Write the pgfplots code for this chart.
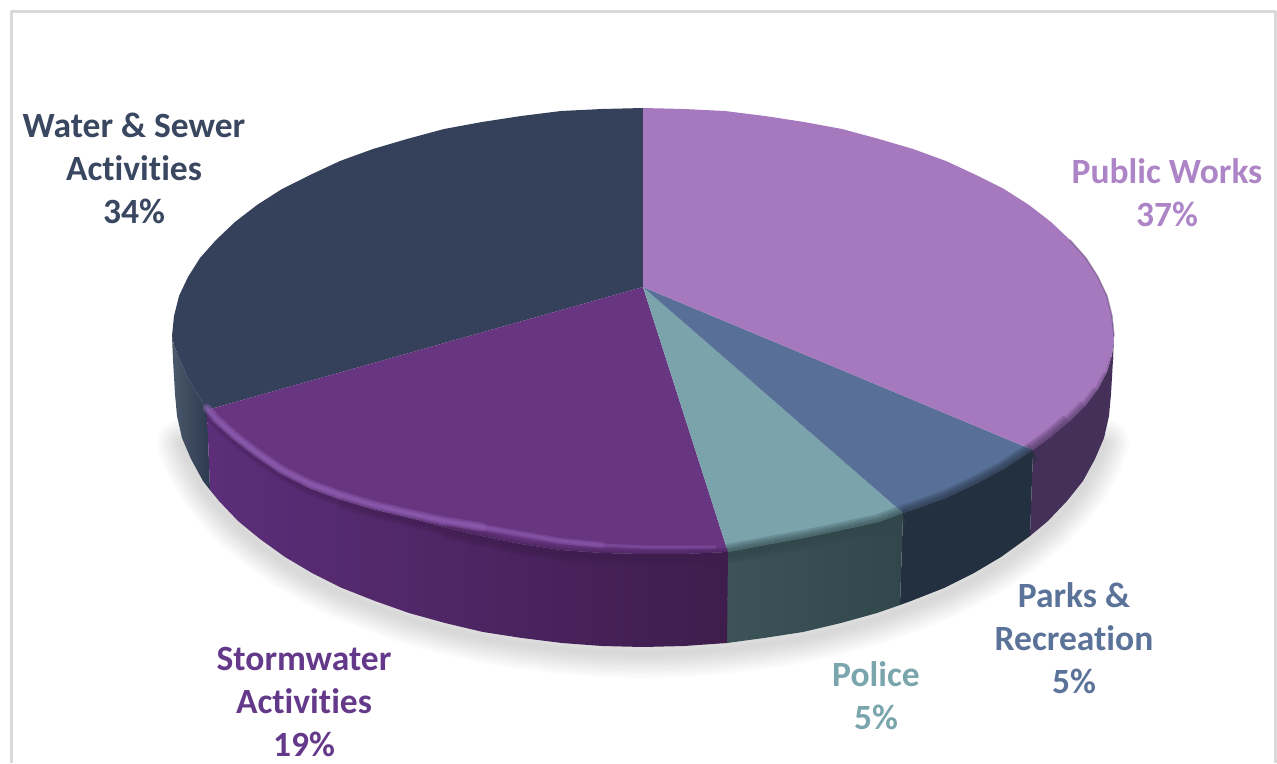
\documentclass[border=0pt]{standalone}
\usepackage{fontspec}
\setmainfont[Ligatures=NoCommon]{Carlito}
\usepackage{pgfplots}
\usepackage{pgfplotstable}
\pgfplotsset{compat=1.18}

\definecolor{cpub}{HTML}{A678BD}
\definecolor{cpubside}{HTML}{45305A}
\definecolor{cpark}{HTML}{587097}
\definecolor{cparkside}{HTML}{23303F}
\definecolor{cpol}{HTML}{7AA3AB}
\definecolor{cpolside}{HTML}{31474B}
\definecolor{cpolleft}{HTML}{3C5357}
\definecolor{cstorm}{HTML}{683681}
\definecolor{cstormside}{HTML}{3E1D4C}
\definecolor{cstormleft}{HTML}{5C2E7A}
\definecolor{chigh}{HTML}{9C6CC4}
\definecolor{cwater}{HTML}{35415A}
\definecolor{cwaterside}{HTML}{2C3A50}
\definecolor{tpub}{HTML}{AD85C7}
\definecolor{tpark}{HTML}{5C7399}
\definecolor{tpol}{HTML}{7AA5AD}
\definecolor{tstorm}{HTML}{64398A}
\definecolor{twater}{HTML}{3A4760}

% top face slices, pixel coordinates of the reference
\pgfplotstableread{
x y
643 287
643 108
684 109
725 111
765 116
804 122
842 129
879 139
913 149
946 161
976 175
1004 189
1029 205
1051 222
1070 240
1086 258
1098 277
1107 296
1112 316
1114 336
1112 355
1107 372
1098 389
1086 405
1070 421
1051 437
1033 450
}\toppub
\pgfplotstableread{
x y
643 287
1033 450
1004 469
976 484
946 498
913 510
903 513
}\toppark
\pgfplotstableread{
x y
643 287
903 513
879 522
842 530
804 538
765 545
728 552
}\toppol
\pgfplotstableread{
x y
643 287
728 552
684 554
643 554
602 553
561 550
521 544
482 536
444 527
407 517
373 509
340 499
310 488
282 473
257 456
235 439
216 422
207 410
}\topstorm
\pgfplotstableread{
x y
643 287
207 410
200 398
188 378
179 358
174 345
172 336
174 316
179 296
188 277
200 258
216 240
235 222
257 205
282 189
310 175
340 161
373 149
407 139
444 129
482 122
521 116
561 111
602 109
643 108
}\topwater

% rims, for the soft edge between top and side
\pgfplotstableread{
x y
1112 355
1107 372
1098 389
1086 405
1070 421
1051 437
1033 450
}\rimpub
\pgfplotstableread{
x y
1033 450
1004 469
976 484
946 498
913 510
903 513
}\rimpark
\pgfplotstableread{
x y
903 513
879 522
842 530
804 538
765 545
728 552
}\rimpol
\pgfplotstableread{
x y
728 552
684 554
643 554
602 553
561 550
521 544
482 536
444 527
407 517
373 509
340 499
310 488
282 473
257 456
235 439
216 422
207 410
}\rimstorm

% the bright ridge on the stormwater slice
\pgfplotstableread{
x y
207 408
216 419
235 436
257 453
282 470
310 484
340 495
373 505
407 513
444 521
482 527
521 534
561 541
602 545
643 547
684 547
715 547
}\ridge

% side walls
\pgfplotstableread{
x y
1114 336
1112 355
1107 372
1098 389
1086 405
1070 421
1051 437
1033 450
1030 536
1048 521
1067 501
1083 481
1095 459
1104 438
1109 416
1111 394
1113 360
}\sidepub
\pgfplotstableread{
x y
1033 450
1004 469
976 484
946 498
913 510
903 513
900 605
911 601
944 588
974 573
1001 557
1026 539
1030 536
}\sidepark
\pgfplotstableread{
x y
903 513
879 522
842 530
804 538
765 545
728 552
727 643
764 638
803 632
841 623
877 613
900 605
}\sidepol
\pgfplotstableread{
x y
728 552
684 554
643 554
602 553
561 550
521 544
482 536
444 527
407 517
373 509
340 499
310 488
282 473
257 456
235 439
216 422
207 410
210 490
219 501
238 521
260 539
285 557
312 573
342 588
375 601
409 613
445 623
483 632
522 638
562 643
602 646
643 647
684 646
727 643
}\sidestorm
\pgfplotstableread{
x y
172 336
174 345
179 358
188 378
200 398
207 410
210 490
203 481
191 459
182 438
177 416
175 394
173 360
}\sidewater

% lower silhouette, carries the shadow
\pgfplotstableread{
x y
182 438
191 459
203 481
219 501
238 521
260 539
285 557
312 573
342 588
375 601
409 613
445 623
483 632
522 638
562 643
602 646
643 647
684 646
724 643
764 638
803 632
841 623
877 613
911 601
944 588
974 573
1001 557
1026 539
1048 521
1067 501
1083 481
1095 459
1104 438
}\outline

\begin{document}
\begin{tikzpicture}
\useasboundingbox (0,0) rectangle (1277pt,763pt);
\begin{axis}[at={(0,0)},anchor=south west,
	scale only axis,width=1277pt,height=763pt,
	xmin=0,xmax=1277,ymin=0,ymax=763,y dir=reverse,
	hide axis,clip=true,
	every axis plot/.append style={no markers,line join=round,line cap=round}]

% frame, open at the bottom
\addplot[draw=black!15,line width=3pt,line cap=butt] coordinates {(11,763) (11,11) (1275.5,11) (1275.5,763)};

% shadow
\pgfplotsinvokeforeach{50,45,40,35,30,25,20,15,10,5}{
\addplot[draw=black,opacity=0.016,line width=#1pt,yshift=-6pt] table {\outline};
}

% sides
\addplot[draw=none,fill=cpubside] table {\sidepub};
\addplot[draw=none,fill=cparkside] table {\sidepark};
\addplot[draw=none,left color=cpolleft,right color=cpolside] table {\sidepol};
\addplot[draw=none,left color=cwaterside!85!white,right color=cwaterside] table {\sidewater};
\addplot[draw=none,left color=cstormleft,right color=cstormside] table {\sidestorm};

% top
\addplot[draw=none,fill=cwater] table {\topwater};
\addplot[draw=none,fill=cstorm] table {\topstorm};
\addplot[draw=none,fill=cpol] table {\toppol};
\addplot[draw=none,fill=cpark] table {\toppark};
\addplot[draw=none,fill=cpub] table {\toppub};

% soft edges
\pgfplotsinvokeforeach{20,16,12,8,4}{
\addplot[draw=cparkside,opacity=0.22,line width=#1pt,line cap=butt,yshift=-2pt] table {\rimpark};
\addplot[draw=cpolside,opacity=0.22,line width=#1pt,line cap=butt,yshift=-2pt] table {\rimpol};
}
\addplot[draw=cpubside,opacity=0.22,line width=20pt,line cap=butt,yshift=-2pt,restrict x to domain=1033:1070] table {\rimpub};
\addplot[draw=cpubside,opacity=0.22,line width=16pt,line cap=butt,yshift=-2pt,restrict x to domain=1033:1086] table {\rimpub};
\addplot[draw=cpubside,opacity=0.22,line width=12pt,line cap=butt,yshift=-2pt,restrict x to domain=1033:1098] table {\rimpub};
\addplot[draw=cpubside,opacity=0.22,line width=8pt,line cap=butt,yshift=-2pt,restrict x to domain=1033:1107] table {\rimpub};
\addplot[draw=cpubside,opacity=0.22,line width=4pt,line cap=butt,yshift=-2pt] table {\rimpub};

\addplot[draw=cstormside,opacity=0.22,line width=16pt,line cap=butt,yshift=-3pt,restrict x to domain=444:728] table {\rimstorm};
\addplot[draw=cstormside,opacity=0.22,line width=12pt,line cap=butt,yshift=-3pt,restrict x to domain=340:728] table {\rimstorm};
\addplot[draw=cstormside,opacity=0.22,line width=8pt,line cap=butt,yshift=-3pt] table {\rimstorm};
\addplot[draw=cstormside,opacity=0.22,line width=4pt,line cap=butt,yshift=-3pt] table {\rimstorm};

\addplot[draw=chigh,opacity=0.28,line width=9pt,restrict x to domain=207:482] table {\ridge};
\addplot[draw=chigh,opacity=0.28,line width=6pt,restrict x to domain=207:602] table {\ridge};
\addplot[draw=chigh,opacity=0.3,line width=3pt,restrict x to domain=207:715] table {\ridge};

\addplot[draw=cpubside,opacity=0.4,line width=1.5pt] coordinates {(1070,240) (1086,258) (1098,277) (1107,296) (1112,316) (1114,336)};

\node[text=twater,font=\fontsize{35.5}{43}\selectfont\bfseries,align=center] at (axis cs:134,168) {Water \& Sewer\\Activities\\34\%};
\node[text=tpub,font=\fontsize{35.5}{43}\selectfont\bfseries,align=center] at (axis cs:1167,193) {Public Works\\37\%};
\node[text=tpark,font=\fontsize{35.5}{43}\selectfont\bfseries,align=center] at (axis cs:1074,638) {Parks \&\\Recreation\\5\%};
\node[text=tpol,font=\fontsize{35.5}{43}\selectfont\bfseries,align=center] at (axis cs:876,696) {Police\\5\%};
\node[text=tstorm,font=\fontsize{35.5}{43}\selectfont\bfseries,align=center] at (axis cs:304,702) {Stormwater\\Activities\\19\%};
\end{axis}
\end{tikzpicture}
\end{document}
